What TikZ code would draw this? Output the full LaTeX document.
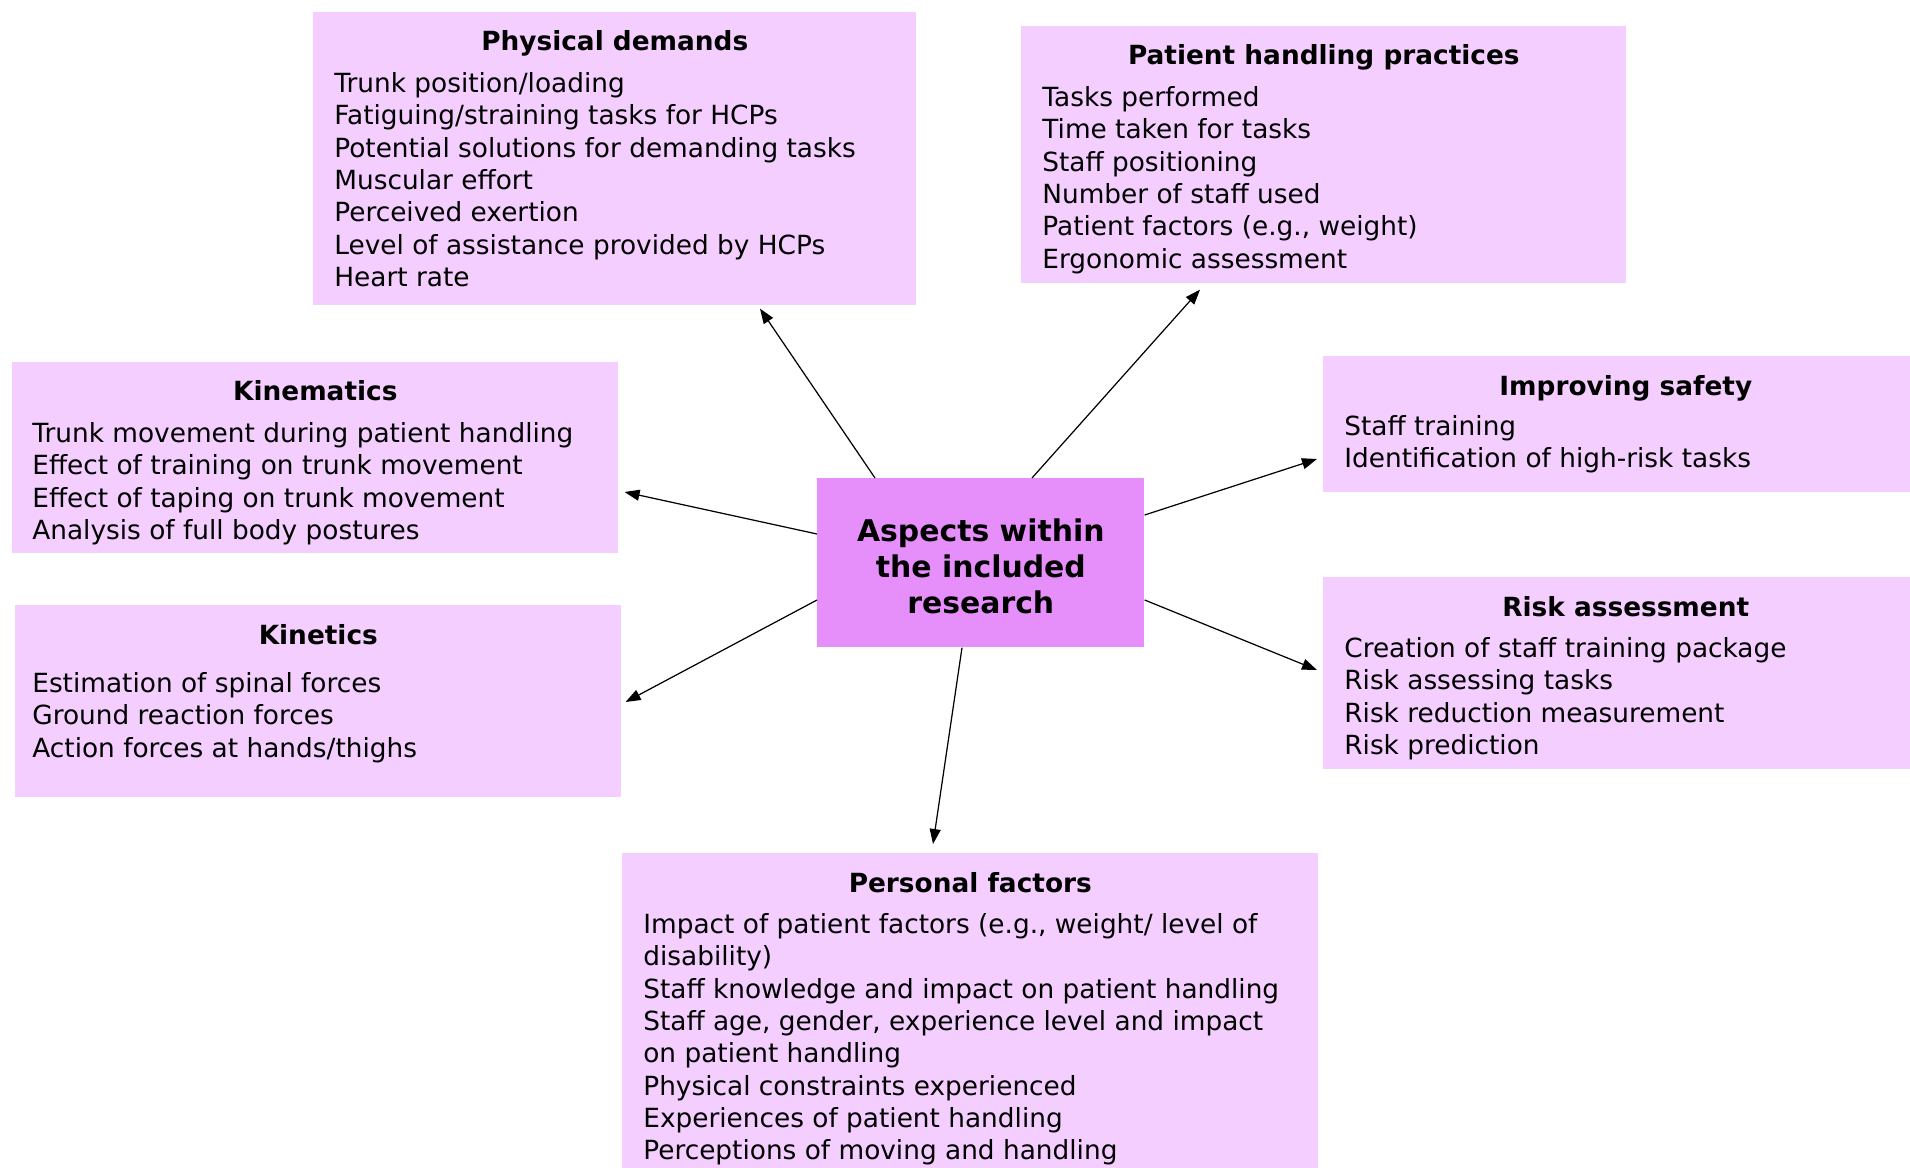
\documentclass[tikz,border=0pt]{standalone}
\usepackage{fontspec}
\setmainfont{DejaVu Sans}
\usetikzlibrary{arrows.meta}

\definecolor{topicpink}{RGB}{244,206,254}
\definecolor{hubpink}{RGB}{230,143,251}

\tikzset{
	topic/.style={rectangle, fill=topicpink, anchor=north west, inner sep=0pt},
	hub/.style={rectangle, fill=hubpink, anchor=north west, inner sep=0pt},
	hubtext/.style={inner sep=0pt, align=center, font=\bfseries\fontsize{17pt}{20.5pt}\selectfont},
	heading/.style={anchor=base, inner sep=0pt, font=\bfseries\fontsize{15pt}{18.4pt}\selectfont},
	items/.style={anchor=north west, inner sep=0pt, align=left, font=\fontsize{15pt}{18.4pt}\selectfont},
	arr/.style={-{Triangle[length=0.3cm, width=0.22cm]}, line width=0.7pt}
}

\begin{document}
\begin{tikzpicture}[x=0.02cm, y=-0.02cm]
				\useasboundingbox (0, 0) rectangle (1910, 1168);

				% boxes
				\node[topic, minimum width=12.06cm, minimum height=5.86cm] (phys) at (313, 12) {};
				\node[topic, minimum width=12.1cm, minimum height=5.14cm] (practice) at (1021, 26) {};
				\node[topic, minimum width=12.12cm, minimum height=3.82cm] (kinematics) at (12, 362) {};
				\node[topic, minimum width=12.1cm, minimum height=2.72cm] (safety) at (1323, 356) {};
				\node[topic, minimum width=12.12cm, minimum height=3.84cm] (kinetics) at (15, 605) {};
				\node[topic, minimum width=12.1cm, minimum height=3.84cm] (risk) at (1323, 577) {};
				\node[topic, minimum width=13.92cm, minimum height=6.8cm] (personal) at (622, 853) {};
				\node[hub, minimum width=6.54cm, minimum height=3.38cm] (aspects) at (817, 478) {};
				\node[hubtext] at ([shift={(0,4)}]aspects.center) {Aspects within\\the included\\research};

				% texts
				\node[heading] at ([shift={(0,39)}]phys.north) {Physical demands};
				\node[items] at ([shift={(21,60)}]phys.north west) {Trunk position/loading\\Fatiguing/straining tasks for HCPs\\Potential solutions for demanding tasks\\Muscular effort\\Perceived exertion\\Level of assistance provided by HCPs\\Heart rate};

				\node[heading] at ([shift={(0,39)}]practice.north) {Patient handling practices};
				\node[items] at ([shift={(21,60)}]practice.north west) {Tasks performed\\Time taken for tasks\\Staff positioning\\Number of staff used\\Patient factors (e.g., weight)\\Ergonomic assessment};

				\node[heading] at ([shift={(0,39)}]kinematics.north) {Kinematics};
				\node[items] at ([shift={(20,60)}]kinematics.north west) {Trunk movement during patient handling\\Effect of training on trunk movement\\Effect of taping on trunk movement\\Analysis of full body postures};

				\node[heading] at ([shift={(0,40)}]safety.north) {Improving safety};
				\node[items] at ([shift={(21,59)}]safety.north west) {Staff training\\Identification of high-risk tasks};

				\node[heading] at ([shift={(0,39)}]kinetics.north) {Kinetics};
				\node[items] at ([shift={(17,67)}]kinetics.north west) {Estimation of spinal forces\\Ground reaction forces\\Action forces at hands/thighs};

				\node[heading] at ([shift={(0,40)}]risk.north) {Risk assessment};
				\node[items] at ([shift={(21,60)}]risk.north west) {Creation of staff training package\\Risk assessing tasks\\Risk reduction measurement\\Risk prediction};

				\node[heading] at ([shift={(0,39)}]personal.north) {Personal factors};
				\node[items] at ([shift={(21,60)}]personal.north west) {Impact of patient factors (e.g., weight/ level of\\disability)\\Staff knowledge and impact on patient handling\\Staff age, gender, experience level and impact\\on patient handling\\Physical constraints experienced\\Experiences of patient handling\\Perceptions of moving and handling};

				% arrows
				\draw[arr] ([shift={(58,0)}]aspects.north west) -- ([shift={(447,3)}]phys.south west);
				\draw[arr] ([shift={(215,0)}]aspects.north west) -- ([shift={(179,6)}]practice.south west);
				\draw[arr] ([shift={(0,56)}]aspects.north west) -- ([shift={(6,130)}]kinematics.north east);
				\draw[arr] ([shift={(0,37)}]aspects.north east) -- ([shift={(-6,103)}]safety.north west);
				\draw[arr] ([shift={(0,122)}]aspects.north west) -- ([shift={(4,97)}]kinetics.north east);
				\draw[arr] ([shift={(0,122)}]aspects.north east) -- ([shift={(-6,93)}]risk.north west);
				\draw[arr] ([shift={(145,0)}]aspects.south west) -- ([shift={(311,-9)}]personal.north west);
			\end{tikzpicture}
\end{document}
